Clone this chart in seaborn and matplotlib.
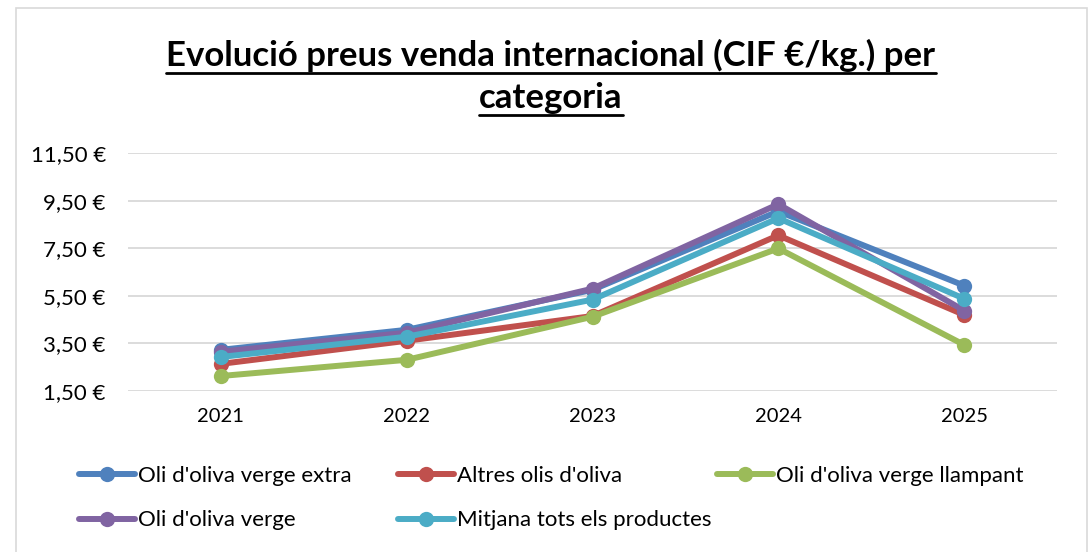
import pandas as pd
import seaborn as sns
import matplotlib.pyplot as plt
from matplotlib.lines import Line2D
from matplotlib.patches import Rectangle
from matplotlib.ticker import FuncFormatter

# Data
years = [2021, 2022, 2023, 2024, 2025]
extra = [3.23, 4.07, 5.75, 9.05, 5.93]
altres = [2.64, 3.61, 4.65, 8.04, 4.70]
llampant = [2.13, 2.81, 4.62, 7.49, 3.44]
verge = [3.15, 3.95, 5.80, 9.35, 4.88]
mitjana = [2.93, 3.78, 5.34, 8.76, 5.38]

names = ["Oli d'oliva verge extra", "Altres olis d'oliva",
         "Oli d'oliva verge llampant", "Oli d'oliva verge",
         "Mitjana tots els productes"]
colors = ["#4F81BD", "#C0504D", "#9BBB59", "#8064A2", "#4BACC6"]

rows = []
for name, vals in zip(names, [extra, altres, llampant, verge, mitjana]):
    for y, v in zip(years, vals):
        rows.append({"year": y, "price": v, "serie": name})
df = pd.DataFrame(rows)

sns.set_theme(style="white")
plt.rcParams["font.family"] = ["Lato", "DejaVu Sans"]
plt.rcParams["text.color"] = "black"

fig = plt.figure(figsize=(10.9, 5.52), dpi=100)
ax = fig.add_axes([128 / 1090, 1 - 391 / 552, (1057 - 128) / 1090, (391 - 153) / 552])

sns.lineplot(data=df, x="year", y="price", hue="serie", hue_order=names,
             palette=colors, marker="o", markersize=11, markeredgewidth=0,
             linewidth=4.3, sort=False, ax=ax, legend=False)

ax.set_xlim(2020.5, 2025.5)
ax.set_ylim(1.5, 11.5)
ax.set_xticks(years)
ax.set_xticklabels([str(y) for y in years])
ax.set_yticks([1.5, 3.5, 5.5, 7.5, 9.5, 11.5])
ax.yaxis.set_major_formatter(FuncFormatter(lambda v, p: f"{v:.2f}".replace(".", ",") + " €"))
ax.tick_params(axis="x", labelsize=14.5, labelcolor="black", length=0, pad=12)
ax.tick_params(axis="y", labelsize=16, labelcolor="black", length=0, pad=16)
ax.set_xlabel("")
ax.set_ylabel("")
ax.grid(axis="y", color="#D9D9D9", linewidth=1.3)
for s in ax.spines.values():
    s.set_visible(False)
ax.set_axisbelow(True)

# Chart border
fig.patches.append(Rectangle((16 / 1090, -0.01), (1087 - 16) / 1090, 1 - 8 / 552 + 0.01,
                             transform=fig.transFigure, fill=False,
                             edgecolor="#D9D9D9", linewidth=1.2))

# Title with underline
t1 = fig.text(551 / 1090, 1 - 66 / 552, "Evolució preus venda internacional (CIF €/kg.) per",
              ha="center", va="baseline", fontsize=25, fontweight="bold", color="black")
t2 = fig.text(551 / 1090, 1 - 108 / 552, "categoria",
              ha="center", va="baseline", fontsize=25, fontweight="bold", color="black")
fig.canvas.draw()
r = fig.canvas.get_renderer()
for t, yb in [(t1, 66), (t2, 108)]:
    bb = t.get_window_extent(r)
    yl = 1 - (yb + 7) / 552
    fig.add_artist(Line2D([bb.x0 / 1090, bb.x1 / 1090], [yl, yl],
                          transform=fig.transFigure, color="black", linewidth=2))

# Legend: Excel-style equal-width columns, filled row by row
handles = [Line2D([0], [0], color=c, linewidth=4.3, marker="o", markersize=11,
                  markeredgewidth=0) for c in colors]
columns = [[0, 3], [1, 4], [2]]
col_x = [79, 398, 717]
for idx, x in zip(columns, col_x):
    leg = fig.legend([handles[i] for i in idx], [names[i] for i in idx],
                     loc="upper left", bbox_to_anchor=(x / 1090, 1 - 466 / 552),
                     frameon=False, fontsize=16, handlelength=2.5, handletextpad=0.15,
                     labelspacing=1.1, borderaxespad=0, borderpad=0)

plt.savefig("out.png", dpi=100)
